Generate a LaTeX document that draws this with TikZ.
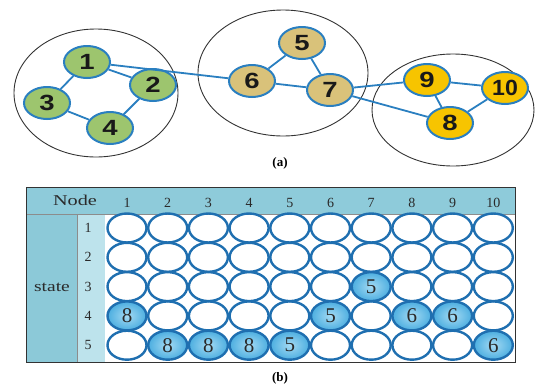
\documentclass[tikz,border=0pt]{standalone}
\usepackage{fontspec}
\setmainfont{Liberation Serif}
\newfontfamily\nodefont{Liberation Sans}
\usetikzlibrary{shapes.geometric}
\definecolor{nblue}{HTML}{2A7FC0}
\definecolor{cblue}{HTML}{1F6FB0}
\definecolor{ngreen}{HTML}{9DC56E}
\definecolor{ntan}{HTML}{D9C27A}
\definecolor{ngold}{HTML}{F7C400}
\definecolor{headc}{HTML}{8ECBDA}
\definecolor{statec}{HTML}{8CC9D8}
\definecolor{rowc}{HTML}{BDE3EC}
\definecolor{fillin}{HTML}{A4DAF3}
\definecolor{fillout}{HTML}{4CAEE0}
\definecolor{txt}{HTML}{2A2A2A}
\expandafter\def\csname cellval-4-1\endcsname{8}
\expandafter\def\csname cellval-5-2\endcsname{8}
\expandafter\def\csname cellval-5-3\endcsname{8}
\expandafter\def\csname cellval-5-4\endcsname{8}
\expandafter\def\csname cellval-5-5\endcsname{5}
\expandafter\def\csname cellval-4-6\endcsname{5}
\expandafter\def\csname cellval-3-7\endcsname{5}
\expandafter\def\csname cellval-4-8\endcsname{6}
\expandafter\def\csname cellval-4-9\endcsname{6}
\expandafter\def\csname cellval-5-10\endcsname{6}
\newcommand{\wide}[1]{\scalebox{1.25}[1]{#1}}
\begin{document}
\begin{tikzpicture}[x=1pt,y=-1pt,
  gnode/.style={ellipse, draw=nblue, line width=2pt, minimum width=46pt, minimum height=32pt, inner sep=0pt,
    font=\nodefont\bfseries\fontsize{22}{22}\selectfont, text=black!90},
  gA/.style={gnode, fill=ngreen},
  gB/.style={gnode, fill=ntan},
  gC/.style={gnode, fill=ngold},
  link/.style={draw=nblue, line width=1.8pt},
  group/.style={ellipse, draw=black!80, line width=0.9pt, inner sep=0pt},
  cell/.style={ellipse, draw=cblue, line width=2.4pt, minimum width=39pt, minimum height=29pt, inner sep=0pt,
    font=\fontsize{21}{21}\selectfont, text=txt},
  fcell/.style={cell, shading=radial, inner color=fillin, outer color=fillout},
  lbl/.style={font=\fontsize{14}{14}\selectfont, text=txt},
  capt/.style={font=\bfseries\fontsize{13}{13}\selectfont}
]
\useasboundingbox (0,0) rectangle (541,389);
% groups
\node[group, minimum width=164pt, minimum height=128pt] (g1) at (96,93) {};
\node[group, minimum width=170pt, minimum height=126pt] (g2) at (283,73) {};
\node[group, minimum width=162pt, minimum height=112pt] (g3) at (453,110) {};
% nodes
\node[gA] (n1) at (87,62) {\wide{1}};
\node[gA] (n2) at (153,85) {\wide{2}};
\node[gA] (n3) at (47,103) {\wide{3}};
\node[gA] (n4) at (110,128) {\wide{4}};
\node[gB] (n5) at (302,43) {\wide{5}};
\node[gB] (n6) at (252,81) {\wide{6}};
\node[gB] (n7) at (330,90) {\wide{7}};
\node[gC] (n9) at (427,80) {\wide{9}};
\node[gC] (n10) at (505,88) {\scalebox{1.05}[1]{10}};
\node[gC] (n8) at (450,123) {\wide{8}};
% links
\draw[link] (n1) -- (n2);
\draw[link] (n1) -- (n3);
\draw[link] (n3) -- (n4);
\draw[link] (n4) -- (n2);
\draw[link] (n1) -- (n6);
\draw[link] (n5) -- (n6);
\draw[link] (n5) -- (n7);
\draw[link] (n6) -- (n7);
\draw[link] (n7) -- (n9);
\draw[link] (n7) -- (n8);
\draw[link] (n9) -- (n10);
\draw[link] (n9) -- (n8);
\draw[link] (n8) -- (n10);
\node[capt] (capa) at (280,163) {(a)};
% table
\fill[headc] (26,187) rectangle (515,214);
\fill[statec] (26,214) rectangle (77,362);
\fill[rowc] (77,214) rectangle (105,362);
\draw[black!45, line width=0.6pt] (26,214) -- (515,214);
\draw[black!45, line width=0.6pt] (77,214) -- (77,362);
\node[lbl, font=\fontsize{15}{15}\selectfont] (hnode) at (75,200) {\scalebox{1.35}[1]{Node}};
\node[lbl, font=\fontsize{15}{15}\selectfont] (hstate) at (52,287) {\scalebox{1.3}[1]{state}};
\foreach \c in {1,...,10} {
  \pgfmathsetmacro{\cx}{127+(\c-1)*40.7}
  \node[lbl] (h\c) at (\cx,203) {\c};
}
\foreach \r in {1,...,5} {
  \pgfmathsetmacro{\ry}{228+(\r-1)*29.3}
  \node[lbl] (r\r) at (88,\ry) {\r};
  \foreach \c in {1,...,10} {
    \pgfmathsetmacro{\cx}{127+(\c-1)*40.7}
    \ifcsname cellval-\r-\c\endcsname
      \node[fcell] (c-\r-\c) at (\cx,\ry) {\csname cellval-\r-\c\endcsname};
    \else
      \node[cell] (c-\r-\c) at (\cx,\ry) {};
    \fi
  }
}
\draw[black!80, line width=1pt] (26,187) rectangle (515,362);
\node[capt] (capb) at (280,378) {(b)};
\end{tikzpicture}
\end{document}
